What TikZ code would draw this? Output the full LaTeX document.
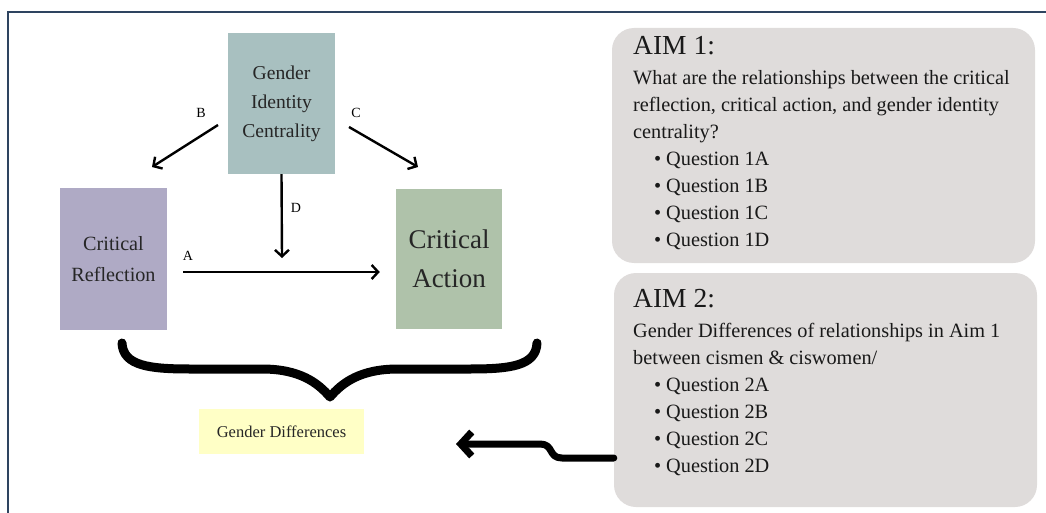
\documentclass[tikz,border=0pt]{standalone}
\usepackage{fontspec}
\setmainfont{LiberationSerif}[Extension=.ttf, UprightFont=*-Regular, BoldFont=*-Bold, ItalicFont=*-Italic]
\usetikzlibrary{arrows.meta}
\definecolor{gicC}{HTML}{A8C0C0}
\definecolor{crC}{HTML}{AFAAC5}
\definecolor{caC}{HTML}{AFC2AA}
\definecolor{gdC}{HTML}{FFFFC6}
\definecolor{aimC}{HTML}{DFDCDB}
\definecolor{frameC}{HTML}{2E4460}
\tikzset{
  concept/.style={rectangle, inner sep=0pt, align=center, text=black!85},
  lbl/.style={font=\fontsize{14}{16}\selectfont, inner sep=0pt},
  arr/.style={line width=2.4pt, -{Straight Barb[length=6.5pt, width=14pt, line width=2.4pt]}},
  aimbox/.style={fill=aimC, rounded corners=22pt, inner sep=0pt},
  aimtext/.style={anchor=base west, inner sep=0pt, align=left, text=black!90},
}
\newcommand{\qitem}[1]{\makebox[33pt][l]{\hspace*{21pt}\textbullet}#1}
\begin{document}
\begin{tikzpicture}[x=1pt,y=-1pt]
\useasboundingbox (0,0) rectangle (1046,513);
% frame
\draw[frameC, line width=2pt] (8,513) -- (8,12) -- (1046,12);

% concept boxes
\node[concept, fill=gicC, minimum width=107pt, minimum height=141pt,
      font=\fontsize{19.6}{29}\selectfont] (gic) at (281.5,103.5) {Gender\\Identity\\Centrality};
\node[concept, fill=crC, minimum width=107pt, minimum height=142pt,
      font=\fontsize{20.2}{31}\selectfont] (cr) at (113.5,259) {Critical\\Reflection};
\node[concept, fill=caC, minimum width=106pt, minimum height=140pt,
      font=\fontsize{27}{39}\selectfont] (ca) at (449,259) {Critical\\Action};
\node[concept, fill=gdC, minimum width=165pt, minimum height=45pt,
      font=\fontsize{16.5}{18}\selectfont] (gd) at (281.5,431.5) {Gender Differences};

% arrow end points
\coordinate (b1) at (218,125);
\coordinate (b2) at (152,167);
\coordinate (c1) at (349,127);
\coordinate (c2) at (418,167);
\coordinate (d2) at (282,258);
\draw[arr] (b1) -- (b2);
\draw[arr] (c1) -- (c2);
\draw[arr] (gic.south) -- (d2);
\draw[arr, shorten <=16pt, shorten >=16pt] ([yshift=-13pt]cr.east) -- ([yshift=-13pt]ca.west);

% labels
\node[lbl] (lB) at (201,113) {B};
\node[lbl] (lC) at (356,113) {C};
\node[lbl] (lD) at (296,208) {D};
\node[lbl] (lA) at (188,256) {A};

% brace
\coordinate (brL) at (122,343);
\coordinate (brR) at (537,343);
\coordinate (brM) at (330,397);
\draw[line width=9pt, line cap=round, line join=round]
  (brL) .. controls (123,366) and (150,369) .. (190,369) -- (262,369)
        .. controls (300,369) and (318,383) .. (brM)
        .. controls (342,383) and (360,369) .. (398,369) -- (470,369)
        .. controls (510,369) and (536,366) .. (brR);

% aim boxes
\node[aimbox, minimum width=423pt, minimum height=235pt] (aim1) at (823.5,145.5) {};
\node[aimbox, minimum width=423pt, minimum height=234pt] (aim2) at (825.5,390) {};

\node[aimtext, font=\fontsize{20.3}{27}\selectfont] (aim1t) at (633,55)
{\begin{tabular}[t]{@{}l@{}}
{\fontsize{27.5}{30}\selectfont AIM 1:}\\[3pt]
What are the relationships between the critical\\
reflection, critical action, and gender identity\\
centrality?\\
\qitem{Question 1A}\\
\qitem{Question 1B}\\
\qitem{Question 1C}\\
\qitem{Question 1D}
\end{tabular}};

\node[aimtext, font=\fontsize{20.3}{27}\selectfont] (aim2t) at (633,307)
{\begin{tabular}[t]{@{}l@{}}
{\fontsize{27.5}{30}\selectfont AIM 2:}\\[3pt]
Gender Differences of relationships in Aim 1\\
between cismen \& ciswomen/\\
\qitem{Question 2A}\\
\qitem{Question 2B}\\
\qitem{Question 2C}\\
\qitem{Question 2D}
\end{tabular}};

% squiggle arrow from AIM 2 to Gender Differences
\coordinate (sq0) at (aim2.west |- 0,458);
\coordinate (sqTip) at (456,444);
\draw[line width=7pt, line cap=round, line join=round,
      -{Straight Barb[length=11pt, width=24pt, line width=7pt]}]
  (sq0) -- (562,458) .. controls (548,458) and (554,444) .. (540,444) -- (sqTip);
\end{tikzpicture}
\end{document}
